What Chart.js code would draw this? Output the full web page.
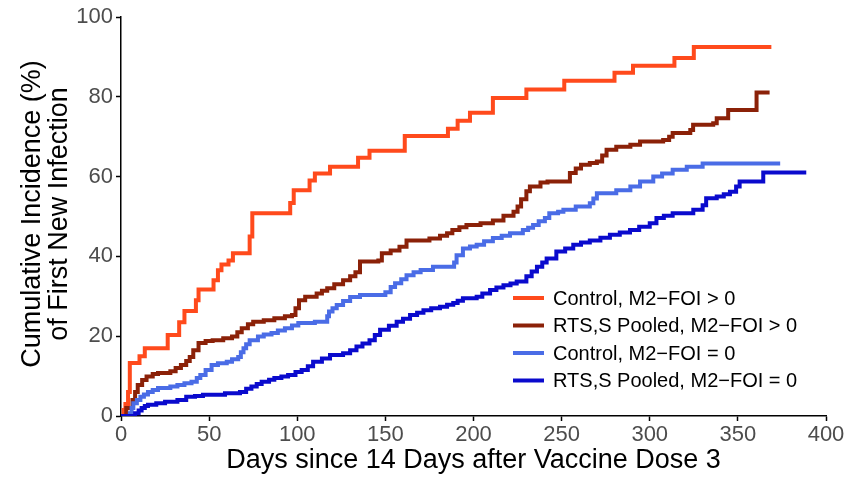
<!DOCTYPE html>
<html>
<head>
<meta charset="utf-8">
<script src="https://cdn.jsdelivr.net/npm/chart.js@4.4.1/dist/chart.umd.min.js"></script>
<style>
html,body{margin:0;padding:0;background:#fff;}
#wrap{width:854px;height:478px;position:relative;}
</style>
</head>
<body>
<div id="wrap"><canvas id="c" width="854" height="478"></canvas></div>
<script>
// ---- data ----
const seriesLabels = [
  "Control, M2\u2212FOI > 0",
  "RTS,S Pooled, M2\u2212FOI > 0",
  "Control, M2\u2212FOI = 0",
  "RTS,S Pooled, M2\u2212FOI = 0"
];
const seriesColors = ["#FF4A1C", "#8B2108", "#4A6CE6", "#0A0ACD"];

const ctrlPosDays = [0,1.5,2.5,4,5,10.5,13.5,26.5,33,36,42.5,44,52.5,55,57,61,63.5,73,74.5,96,98,107,110,118.6,134.5,141,161,185.5,191,198,211,230,251.5,280,290.5,314,325,369];
const ctrlPosVals = [0,1.5,3,6,13.3,15,17,20.3,23.5,26.3,29,31.7,34,36.5,38,39,40.8,45,50.8,53.4,56.6,59,60.8,62.5,64.7,66.5,70.2,72,74,76,79.7,81.8,84,86,87.8,89.7,92.5,92.5];

const rtsPosDays = [0,3,6.5,8,9.5,12,14.5,18,21,28,31,34,37,39,41,44,48,52,58,63,66,68.5,72,75,81,87,93,97,99,101,104.5,111,114,117,121,126,130,133,135.6,146,148,153,158,162,175,181,185,188,192,196,204,211,217,222.7,225,227,230,232,238,242,254.7,258,261,266,270,273,275.5,281,289,294.5,307.6,311,313,323,324.6,336,338,344.5,360.6,368];
const rtsPosVals = [0,2,4,6,7.8,9,9.9,10.5,10.8,11.2,12,12.8,13.8,14.8,16.5,18.3,18.8,19,19.5,19.9,21,22,23,23.6,24,24.5,25,25.3,27,29,29.9,30.7,31.4,32,33,34,35,36,38.7,39,40.8,41.5,42.4,44,44.5,45.2,45.8,46.6,47.3,47.9,48.3,49,50.2,51.2,52.5,54.3,56.3,57.5,58.5,58.8,60.9,62,63,63.4,63.8,65.3,66.7,67.5,68,68.8,69.2,70,70.9,71.7,73,73.4,74.6,76.7,81.1,81.1];

const ctrlZeroDays = [0,5,6,7,9,11,13,15.3,18,21,28,32,36,40,43,45,48,51.4,55,60,63,66.5,68,69.5,71,73,77.7,81,85.4,89,93,97,100.6,110,117,118,120,122.4,126,130,135.6,150,153,155.5,159,162,166,170,177,189,190.4,194,198,201.8,206,211,216,220.7,228,231,233.8,237,240.5,243,248,251,258,266,268,270,281,289,294.5,302,307,313,321,330,374];
const ctrlZeroVals = [0,0.7,2,3.2,4,4.8,5.4,6,6.5,7,7.4,7.8,8.2,8.6,9.5,10.3,11.5,12.8,13.2,13.6,14.2,14.8,16,17,18,19,19.9,20.4,20.8,21.4,22,22.7,23.3,23.6,25,26.2,27,27.8,28.8,29.8,30.3,31,32.3,33.3,34.3,35.3,36,36.6,37.4,38.5,40.3,42,42.5,42.9,43.8,44.6,45.2,45.8,46.6,47.2,47.9,48.8,49.6,50.8,51.2,51.7,52.5,53.3,54.5,55.8,56.6,57.5,58.8,60,60.8,61.7,62.5,63.3,63.3];

const rtsZeroDays = [0,7,8,10,11.7,13.5,15.3,20,25,32,37,42,46.5,59,67.5,71,74,77,79.8,84,87,91,94.8,99,102.5,106,109,114,118.6,126,130,133.6,137,141,144,147,152,156.4,160,164,168,171.6,176,181,185,188.5,191,194,201.8,205,209.4,213,217,221,224.5,230,233,236,239,241.5,247,252,256.6,261,266,272,277.4,283,288.8,294,300,303.8,308,313,324.7,330,332,338,342,345.5,349,351,364.4,388.8];
const rtsZeroVals = [0,0,0.7,1.4,2,2.5,2.8,3.2,3.6,4,4.8,5,5.3,5.7,6,6.8,7.4,8,8.6,9.1,9.5,9.9,10.3,11,11.5,12.5,13.6,14.4,15.3,15.7,16.5,17.4,18.2,19,20.3,21.6,22.6,23.6,24.4,25.3,25.9,26.5,27,27.4,27.9,28.3,28.9,29.5,29.9,30.7,31.6,32.2,32.8,33.2,33.7,35,36.2,37.4,38.5,39.5,41.2,42,42.9,43.5,44,44.7,45.4,46,46.6,47.4,48.3,49.6,50.2,50.8,51.7,52.8,54.6,55,55.6,56.2,57.5,58.8,61,61];

const xTicks = [0,50,100,150,200,250,300,350,400];
const yTicks = [0,20,40,60,80,100];
const xTitle = "Days since 14 Days after Vaccine Dose 3";
const yTitleLines = ["Cumulative Incidence (%)", "of First New Infection"];

// ---- build ----
function pts(days, vals){ return days.map((d,i)=>({x:d, y:vals[i]})); }
const allDays = [ctrlPosDays, rtsPosDays, ctrlZeroDays, rtsZeroDays];
const allVals = [ctrlPosVals, rtsPosVals, ctrlZeroVals, rtsZeroVals];

const datasets = seriesLabels.map((lab,i)=>({
  label: lab,
  data: pts(allDays[i], allVals[i]),
  borderColor: seriesColors[i],
  backgroundColor: seriesColors[i],
  borderWidth: 4,
  pointRadius: 0,
  stepped: 'before',
  fill: false,
  tension: 0,
  borderCapStyle: 'butt',
  borderJoinStyle: 'miter'
})).reverse();

const FONT = "'Liberation Sans', Arial, sans-serif";

const annot = {
  id: 'annot',
  afterDraw(chart){
    const ctx = chart.ctx;
    const ca = chart.chartArea;
    ctx.save();
    // axis titles
    ctx.fillStyle = '#000';
    ctx.font = '27px ' + FONT;
    ctx.textAlign = 'center';
    ctx.textBaseline = 'middle';
    ctx.fillText(xTitle, (ca.left + ca.right)/2, 461);
    ctx.save();
    ctx.translate(33, 214);
    ctx.rotate(-Math.PI/2);
    ctx.fillText(yTitleLines[0], 0, 0);
    ctx.restore();
    ctx.save();
    ctx.translate(60, 214);
    ctx.rotate(-Math.PI/2);
    ctx.fillText(yTitleLines[1], 0, 0);
    ctx.restore();
    // legend
    ctx.font = '20px ' + FONT;
    ctx.textAlign = 'left';
    const rows = [298, 325.5, 353, 380.5];
    seriesLabels.forEach((lab,i)=>{
      ctx.strokeStyle = seriesColors[i];
      ctx.lineWidth = 4;
      ctx.beginPath();
      ctx.moveTo(513, rows[i]);
      ctx.lineTo(544, rows[i]);
      ctx.stroke();
      ctx.fillStyle = '#000';
      ctx.fillText(lab, 553, rows[i] + 1);
    });
    ctx.restore();
  }
};

new Chart(document.getElementById('c'), {
  type: 'line',
  data: { datasets },
  options: {
    responsive: false,
    animation: false,
    parsing: true,
    layout: { padding: { top: 17, right: 28, left: 0, bottom: 0 } },
    plugins: { legend: { display: false }, tooltip: { enabled: false } },
    scales: {
      x: {
        type: 'linear', min: 0, max: 400,
        afterBuildTicks(s){ s.ticks = xTicks.map(v=>({value:v})); },
        afterFit(s){ s.height = 62; },
        ticks: { font: { size: 22, family: FONT }, color: '#4D4D4D', padding: 1, maxRotation: 0, autoSkip: false },
        grid: { drawOnChartArea: false, drawTicks: true, tickLength: 5, color: '#000', tickWidth: 1.5 },
        border: { display: true, color: '#000', width: 1.5 }
      },
      y: {
        type: 'linear', min: 0, max: 100,
        afterBuildTicks(s){ s.ticks = yTicks.map(v=>({value:v})); },
        afterFit(s){ s.width = 121; },
        ticks: { font: { size: 22, family: FONT }, color: '#4D4D4D', padding: 3, autoSkip: false },
        grid: { drawOnChartArea: false, drawTicks: true, tickLength: 5, color: '#000', tickWidth: 1.5 },
        border: { display: true, color: '#000', width: 1.5 }
      }
    }
  },
  plugins: [annot]
});
</script>
</body>
</html>
